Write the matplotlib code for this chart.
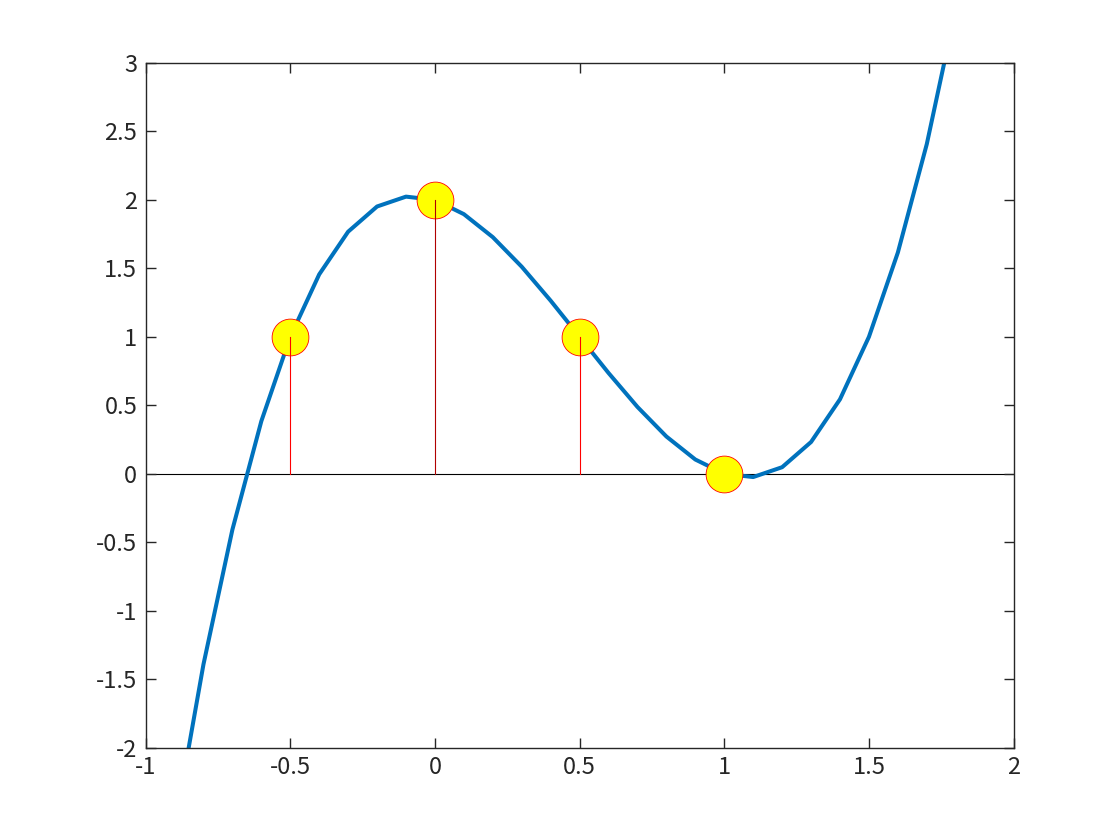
import matplotlib
matplotlib.use("Agg")
import matplotlib.pyplot as plt

# curve samples
x_curve = [-1.0, -0.9, -0.8, -0.7, -0.6, -0.5, -0.4, -0.3, -0.2, -0.1, 0.0,
           0.1, 0.2, 0.3, 0.4, 0.5, 0.6, 0.7, 0.8, 0.9, 1.0,
           1.1, 1.2, 1.3, 1.4, 1.5, 1.6, 1.7, 1.8, 1.9, 2.0]
y_curve = [-4.0, -2.584, -1.392, -0.408, 0.384, 1.0, 1.456, 1.768, 1.952, 2.024, 2.0,
           1.896, 1.728, 1.512, 1.264, 1.0, 0.736, 0.488, 0.272, 0.104, 0.0,
           -0.024, 0.048, 0.232, 0.544, 1.0, 1.616, 2.408, 3.392, 4.584, 6.0]

# highlighted points
x_pts = [-0.5, 0.0, 0.5, 1.0]
y_pts = [1.0, 2.0, 1.0, 0.0]
stem_colors = ["#ff0000", "#b00000", "#ff0000", "#ff0000"]

x_ticks = [-1, -0.5, 0, 0.5, 1, 1.5, 2]
x_ticklabels = ["-1", "-0.5", "0", "0.5", "1", "1.5", "2"]
y_ticks = [-2, -1.5, -1, -0.5, 0, 0.5, 1, 1.5, 2, 2.5, 3]
y_ticklabels = ["-2", "-1.5", "-1", "-0.5", "0", "0.5", "1", "1.5", "2", "2.5", "3"]

plt.rcParams['font.family'] = ['Noto Sans CJK JP', 'DejaVu Sans']

fig = plt.figure(figsize=(11.2, 8.4), dpi=100)
ax = fig.add_axes([0.13, 0.11, 0.775, 0.815])

ax.axhline(0, color="black", lw=0.8, zorder=1)
ax.plot(x_curve, y_curve, color="#0072BD", lw=2.9, zorder=2)
ax.plot(x_pts, y_pts, linestyle="none", marker="o", markersize=26.5,
        markerfacecolor="#ffff00", markeredgecolor="#ff0000", markeredgewidth=0.6, zorder=4)
for xp, yp, c in zip(x_pts, y_pts, stem_colors):
    ax.plot([xp, xp], [0, yp], color=c, lw=0.8, zorder=5)

ax.set_xlim(-1, 2)
ax.set_ylim(-2, 3)
ax.set_xticks(x_ticks)
ax.set_xticklabels(x_ticklabels)
ax.set_yticks(y_ticks)
ax.set_yticklabels(y_ticklabels)

for s in ax.spines.values():
    s.set_color("#262626")
    s.set_linewidth(1.0)
ax.tick_params(direction="in", length=7, width=1.0, color="#262626",
               labelcolor="#262626", labelsize=17, top=True, right=True, pad=6)

fig.savefig("out.png", dpi=100, facecolor="white")
